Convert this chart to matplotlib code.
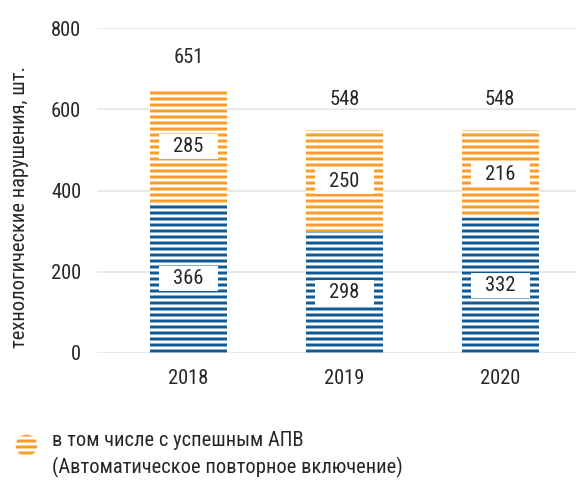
import matplotlib
matplotlib.use("Agg")
import matplotlib.pyplot as plt
from matplotlib import font_manager
from matplotlib.patches import Circle

# Data
years = ["2018", "2019", "2020"]
base_values = [366, 298, 332]      # без успешного АПВ
apv_values = [285, 250, 216]       # в том числе с успешным АПВ
totals = [651, 548, 548]
y_ticks = [0, 200, 400, 600, 800]

ylabel = "технологические нарушения, шт."
legend_line1 = "в том числе с успешным АПВ"
legend_line2 = "(Автоматическое повторное включение)"

BLUE = "#0f5a96"
ORANGE = "#f89c2a"
TEXT = "#262626"
GRID = "#e2e2e2"
FS = 20.5

# Pick a condensed face if one is available
names = {f.name for f in font_manager.fontManager.ttflist}
if "Roboto Condensed" in names:
    FONT = dict(family="Roboto Condensed")
else:
    FONT = dict(family="DejaVu Sans", stretch="condensed")

plt.rcParams["hatch.linewidth"] = 3.0

DPI = 72
fig = plt.figure(figsize=(576 / DPI, 482 / DPI), dpi=DPI)
W, H = 576, 482
ax = fig.add_axes([97 / W, (H - 353) / H, (576 - 97) / W, (353 - 28) / H])

x = list(range(len(years)))
width = 0.494

ax.bar(x, base_values, width, color="white", edgecolor=BLUE,
       hatch="--", linewidth=0, zorder=2)
ax.bar(x, apv_values, width, bottom=base_values, color="white",
       edgecolor=ORANGE, hatch="--", linewidth=0, zorder=2)

# Segment value labels on white boxes
for xi, b, a in zip(x, base_values, apv_values):
    for val, mid in ((b, b / 2), (a, b + a / 2)):
        ax.text(xi, mid, f"{val}", ha="center", va="center", fontsize=FS,
                color=TEXT, zorder=4, **FONT)
        ax.add_patch(plt.Rectangle((xi - 0.19, mid - 31), 0.38, 62,
                                   fc="white", ec="none", zorder=3))

# Totals above bars
for xi, t in zip(x, totals):
    ax.annotate(f"{t}", (xi, t), xytext=(0, 31), textcoords="offset points",
                ha="center", va="center", fontsize=FS, color=TEXT, **FONT)

ax.set_xlim(-0.587, 2.487)
ax.set_ylim(0, 800)
ax.set_yticks(y_ticks)
ax.set_xticks(x)
ax.set_xticklabels(years)
ax.yaxis.grid(True, color=GRID, linewidth=1.5, zorder=0)
ax.set_axisbelow(True)
for s in ax.spines.values():
    s.set_visible(False)
ax.tick_params(axis="both", length=0, labelsize=FS, labelcolor=TEXT)
ax.tick_params(axis="y", pad=16)
ax.tick_params(axis="x", pad=16)
for lab in ax.get_xticklabels() + ax.get_yticklabels():
    lab.set(**FONT)

fig.text(20 / W, 1 - 207 / H, ylabel, rotation=90, ha="center", va="center",
         fontsize=FS, color=TEXT, **FONT)

# Legend
lax = fig.add_axes([15 / W, 1 - 457 / H, 23 / W, 23 / H])
lax.set_xlim(0, 1)
lax.set_ylim(0, 1)
lax.set_aspect("equal")
lax.axis("off")
lax.add_patch(Circle((0.5, 0.5), 0.47, fc="white", ec=ORANGE, hatch="--",
                     linewidth=0))
fig.text(52 / W, 1 - 441 / H, legend_line1, ha="left", va="center",
         fontsize=FS, color=TEXT, **FONT)
fig.text(52 / W, 1 - 467 / H, legend_line2, ha="left", va="center",
         fontsize=FS, color=TEXT, **FONT)

fig.savefig("out.png", dpi=DPI)
